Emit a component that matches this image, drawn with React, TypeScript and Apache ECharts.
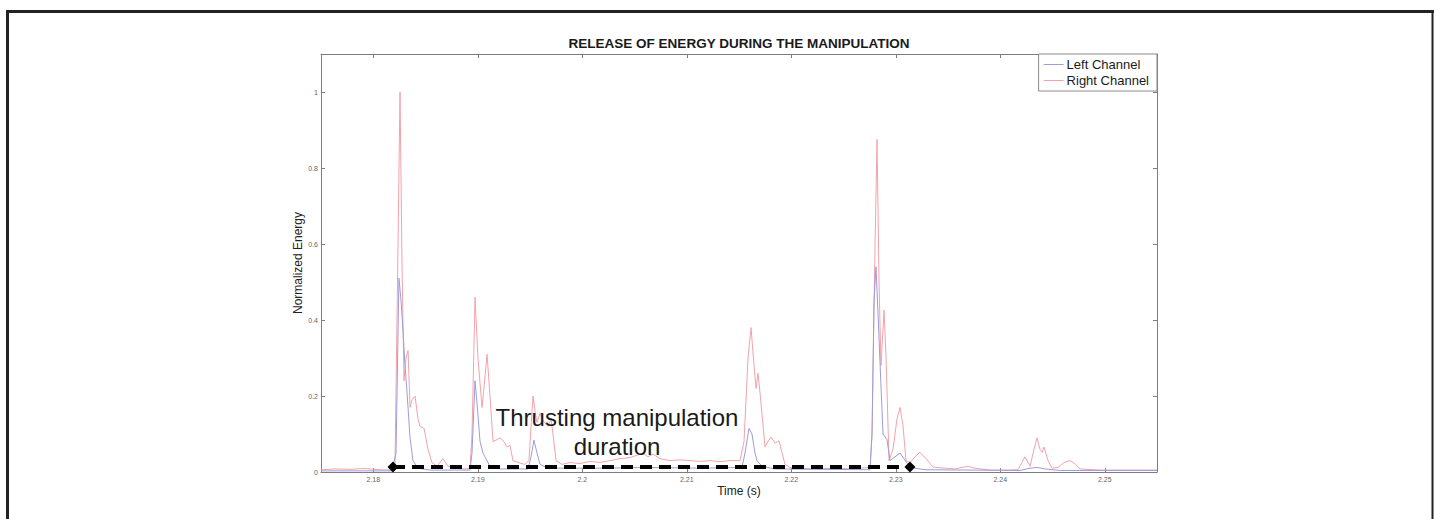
import React, { useEffect, useRef } from "react";
import * as echarts from "echarts";

// ---- data (time in s, normalized energy) ----
const rightTime = [
  2.175, 2.17634, 2.17778, 2.17921, 2.18065, 2.18179, 2.18208, 2.18237, 2.18256, 2.18275,
  2.18294, 2.18313, 2.18333, 2.18352, 2.18371, 2.184, 2.18428, 2.18447, 2.18486, 2.18524,
  2.18562, 2.1861, 2.18667, 2.18715, 2.18782, 2.18878, 2.18926, 2.18945, 2.18974, 2.19002,
  2.19041, 2.19069, 2.19089, 2.19117, 2.19146, 2.19184, 2.19213, 2.19251, 2.1928, 2.19309,
  2.19337, 2.19385, 2.19452, 2.1949, 2.1951, 2.19529, 2.19548, 2.19567, 2.19596, 2.19624,
  2.19672, 2.19701, 2.1972, 2.19749, 2.19806, 2.19883, 2.19979, 2.20074, 2.2017, 2.20266,
  2.20361, 2.20457, 2.20534, 2.20581, 2.20629, 2.20677, 2.20744, 2.2084, 2.20936, 2.21031,
  2.21127, 2.21223, 2.21318, 2.21414, 2.2151, 2.21548, 2.21586, 2.21615, 2.21644, 2.21663,
  2.21682, 2.21711, 2.21749, 2.21778, 2.21806, 2.21845, 2.21883, 2.21912, 2.2194, 2.21988,
  2.22084, 2.2218, 2.22275, 2.22371, 2.22467, 2.22562, 2.22658, 2.22754, 2.22773, 2.22802,
  2.22821, 2.2284, 2.22859, 2.22888, 2.22907, 2.22936, 2.22974, 2.23012, 2.23041, 2.2307,
  2.23098, 2.23137, 2.23184, 2.23232, 2.2329, 2.23357, 2.23472, 2.23567, 2.23634, 2.23692,
  2.23759, 2.23902, 2.24046, 2.2417, 2.24237, 2.24285, 2.24323, 2.24352, 2.2438, 2.244,
  2.24419, 2.24457, 2.24495, 2.24553, 2.2461, 2.24667, 2.24715, 2.24763, 2.24955, 2.25242,
  2.255,
];
const rightEnergy = [
  0.006, 0.008, 0.007, 0.009, 0.006, 0.005, 0.02, 0.6, 1.0, 0.55,
  0.24, 0.3, 0.32, 0.17, 0.19, 0.2, 0.14, 0.12, 0.115, 0.06,
  0.025, 0.015, 0.035, 0.015, 0.01, 0.008, 0.01, 0.1, 0.46, 0.3,
  0.17, 0.25, 0.31, 0.2, 0.08, 0.085, 0.09, 0.08, 0.066, 0.07,
  0.03, 0.025, 0.02, 0.03, 0.12, 0.2, 0.16, 0.13, 0.155, 0.135,
  0.12, 0.14, 0.1, 0.03, 0.02, 0.025, 0.022, 0.028, 0.025, 0.03,
  0.035, 0.038, 0.045, 0.05, 0.04, 0.047, 0.035, 0.03, 0.032, 0.03,
  0.028, 0.03, 0.027, 0.03, 0.03, 0.08, 0.3, 0.38, 0.28, 0.22,
  0.26, 0.18, 0.066, 0.08, 0.092, 0.076, 0.082, 0.05, 0.02, 0.012,
  0.01, 0.008, 0.01, 0.009, 0.01, 0.008, 0.01, 0.012, 0.1, 0.6,
  0.875, 0.5, 0.28, 0.426, 0.3, 0.03, 0.06, 0.14, 0.17, 0.12,
  0.03, 0.025, 0.04, 0.052, 0.035, 0.013, 0.01, 0.008, 0.012, 0.015,
  0.01, 0.005, 0.005, 0.006, 0.04, 0.015, 0.06, 0.09, 0.06, 0.052,
  0.066, 0.03, 0.01, 0.012, 0.025, 0.03, 0.022, 0.008, 0.005, 0.005,
  0.005,
];

const leftTime = [
  2.175, 2.17873, 2.18179, 2.18218, 2.18246, 2.18266, 2.18285, 2.18304, 2.18323, 2.18352,
  2.1838, 2.18428, 2.18543, 2.18926, 2.18945, 2.18974, 2.19002, 2.19022, 2.1905, 2.19069,
  2.19117, 2.19213, 2.19481, 2.1951, 2.19538, 2.19567, 2.19596, 2.19672, 2.2017, 2.20648,
  2.21127, 2.21529, 2.21557, 2.21596, 2.21624, 2.21653, 2.21672, 2.2172, 2.21845, 2.22754,
  2.22773, 2.22792, 2.22811, 2.2283, 2.22849, 2.22878, 2.22916, 2.22945, 2.22993, 2.23041,
  2.23079, 2.23117, 2.23184, 2.2328, 2.24189, 2.24285, 2.24352, 2.24428, 2.24572, 2.255,
];
const leftEnergy = [
  0.003, 0.003, 0.003, 0.05, 0.51, 0.45, 0.37, 0.28, 0.21, 0.09,
  0.03, 0.01, 0.005, 0.005, 0.05, 0.24, 0.15, 0.08, 0.05, 0.04,
  0.015, 0.008, 0.008, 0.04, 0.084, 0.05, 0.02, 0.01, 0.01, 0.012,
  0.01, 0.012, 0.05, 0.115, 0.1, 0.05, 0.03, 0.015, 0.008, 0.006,
  0.1, 0.45, 0.54, 0.42, 0.29, 0.1, 0.085, 0.03, 0.04, 0.05,
  0.035, 0.02, 0.01, 0.006, 0.004, 0.01, 0.012, 0.008, 0.004, 0.004,
];

// thrusting duration marker (start / end time, level)
const durationTimes = [2.18189, 2.23136];
const durationLevel = 0.013;

const xTicks = [2.18, 2.19, 2.2, 2.21, 2.22, 2.23, 2.24, 2.25];
const yTicks = [0, 0.2, 0.4, 0.6, 0.8, 1];

const seriesNames = ["Left Channel", "Right Channel"];
const titleText = "RELEASE OF ENERGY DURING THE MANIPULATION";
const xLabel = "Time (s)";
const yLabel = "Normalized Energy";
const annotationLines = ["Thrusting manipulation", "duration"];

const FONT = "'Liberation Sans', Arial, Helvetica, sans-serif";

function zip(a: number[], b: number[]) {
  return a.map((v, i) => [v, b[i]]);
}

export default function App() {
  const ref = useRef<HTMLDivElement>(null);
  useEffect(() => {
    if (!ref.current) return;
    const chart = echarts.init(ref.current, undefined, { renderer: "svg" });
    const axisColor = "#7d7d7d";
    const fmtX = (v: number) => String(+Number(v).toFixed(2));
    const fmtY = (v: number) => String(+Number(v).toFixed(1));
    const xBase = {
      type: "value" as const,
      min: 2.175,
      max: 2.255,
      splitLine: { show: false },
      axisLine: { show: true, onZero: false, lineStyle: { color: axisColor, width: 1 } },
      axisTick: { show: true, inside: true, length: 4, customValues: xTicks, lineStyle: { color: axisColor } },
    };
    const yBase = {
      type: "value" as const,
      min: 0,
      max: 1.1,
      splitLine: { show: false },
      axisLine: { show: true, onZero: false, lineStyle: { color: axisColor, width: 1 } },
      axisTick: { show: true, inside: true, length: 4, customValues: yTicks, lineStyle: { color: axisColor } },
    };
    const leftColor = "#9c9cdc";
    const rightColor = "#f3a2ab";
    chart.setOption({
      animation: false,
      backgroundColor: "#ffffff",
      grid: { left: 321, top: 54, right: 277, bottom: 47, containLabel: false },
      legend: {
        data: seriesNames,
        orient: "vertical",
        right: 277,
        top: 54,
        backgroundColor: "#ffffff",
        borderColor: "#8a8a8a",
        borderWidth: 1,
        borderRadius: 0,
        padding: [4, 8, 4, 5],
        itemGap: 3,
        itemWidth: 20,
        itemHeight: 1,
        icon: "rect",
        textStyle: { fontFamily: FONT, fontSize: 13, color: "#1a1a1a", padding: [0, 0, 0, -2] },
      },
      xAxis: [
        {
          ...xBase,
          position: "bottom",
          axisLabel: { customValues: xTicks, formatter: fmtX, fontSize: 7, color: "#666", margin: 4, fontFamily: FONT },
        },
        { ...xBase, position: "top", axisLabel: { show: false } },
      ],
      yAxis: [
        {
          ...yBase,
          position: "left",
          axisLabel: { customValues: yTicks, formatter: fmtY, fontSize: 7, color: "#666", margin: 3, fontFamily: FONT },
        },
        { ...yBase, position: "right", axisLabel: { show: false } },
      ],
      series: [
        {
          name: seriesNames[0],
          type: "line",
          data: zip(leftTime, leftEnergy),
          showSymbol: false,
          symbol: "none",
          smooth: false,
          color: leftColor,
          lineStyle: { width: 1, color: leftColor },
          z: 3,
        },
        {
          name: seriesNames[1],
          type: "line",
          data: zip(rightTime, rightEnergy),
          showSymbol: false,
          symbol: "none",
          smooth: false,
          color: rightColor,
          lineStyle: { width: 1, color: rightColor },
          z: 2,
        },
        {
          name: "duration",
          type: "line",
          data: durationTimes.map((t) => [t, durationLevel]),
          symbol: "diamond",
          symbolSize: 11,
          showSymbol: true,
          lineStyle: { width: 4, color: "#000", type: [12, 7] },
          itemStyle: { color: "#000" },
          z: 5,
          silent: true,
        },
      ],
      graphic: [
        {
          type: "text",
          x: 739,
          y: 43,
          style: {
            text: titleText,
            fontFamily: FONT,
            fontWeight: "bold",
            fontSize: 13.5,
            fill: "#1a1a1a",
            align: "center",
            verticalAlign: "middle",
          },
        },
        {
          type: "text",
          x: 739,
          y: 491,
          style: { text: xLabel, fontFamily: FONT, fontSize: 12, fill: "#222", align: "center", verticalAlign: "middle" },
        },
        {
          type: "text",
          x: 298,
          y: 263,
          rotation: Math.PI / 2,
          style: { text: yLabel, fontFamily: FONT, fontSize: 12, fill: "#222", align: "center", verticalAlign: "middle" },
        },
        {
          type: "text",
          x: 617,
          y: 432,
          z: 10,
          style: {
            text: annotationLines.join("\n"),
            fontFamily: FONT,
            fontSize: 24,
            lineHeight: 29,
            fill: "#1a1a1a",
            align: "center",
            verticalAlign: "middle",
          },
        },
        {
          type: "line",
          shape: { x1: 6, y1: 11.5, x2: 1434, y2: 11.5 },
          style: { stroke: "#222", lineWidth: 3 },
        },
        {
          type: "line",
          shape: { x1: 7.5, y1: 10, x2: 7.5, y2: 519 },
          style: { stroke: "#222", lineWidth: 3 },
        },
        {
          type: "line",
          shape: { x1: 1432.5, y1: 10, x2: 1432.5, y2: 519 },
          style: { stroke: "#222", lineWidth: 2 },
        },
      ],
    });
    return () => chart.dispose();
  }, []);
  return (
    <div
      ref={ref}
      style={{ position: "absolute", left: 0, top: 0, width: 1434, height: 519, background: "#fff" }}
    />
  );
}
